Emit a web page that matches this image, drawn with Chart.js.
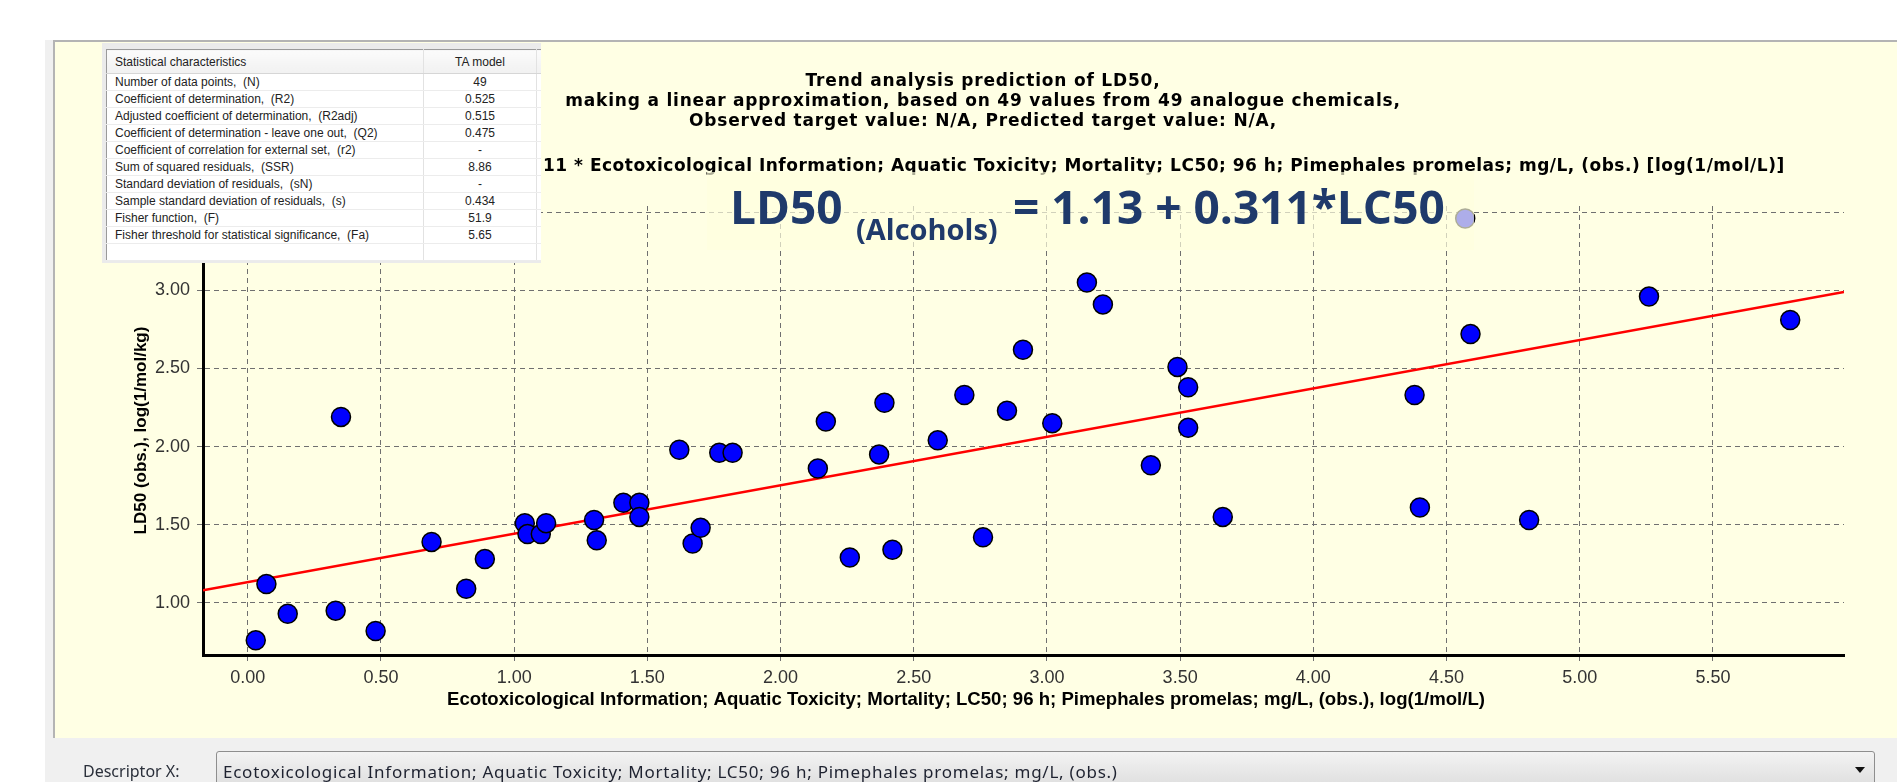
<!DOCTYPE html>
<html>
<head>
<meta charset="utf-8">
<title>Trend analysis prediction of LD50</title>
<script src="https://cdn.jsdelivr.net/npm/chart.js@4.4.0/dist/chart.umd.min.js"></script>
<style>
  html, body { margin: 0; padding: 0; width: 1897px; height: 782px; overflow: hidden; background: #fff; }
  #frame { position: absolute; left: 45px; top: 40px; right: 0; bottom: 0; background: #f0f0f0; }
  #panel { position: absolute; left: 53px; top: 40px; width: 1844px; height: 698px; background: #ffffe4;
           border-left: 2px solid #b4b4b4; border-top: 2px solid #b4b4b4; box-sizing: border-box; }
  #chart { position: absolute; left: 0; top: 0; }
  #stats { position: absolute; left: 102px; top: 43px; width: 439px; height: 220px; background: #ebebeb; overflow: hidden; }
  #stats table { position: absolute; left: 4px; top: 6px; width: 480px; table-layout: fixed; border-collapse: collapse;
                 background: #fff; font: 12px "Liberation Sans", Arial, sans-serif; color: #222;
                 border-left: 1px solid #9a9a9a; border-top: 1px solid #9a9a9a; }
  #stats td, #stats th { white-space: pre; padding: 0 0 0 8px; height: 16px; border-bottom: 1px solid #ececec;
                         border-right: 1px solid #e2e2e2; font-weight: normal; text-align: left; overflow: hidden; }
  #stats th { height: 23px; background: linear-gradient(#fbfbfb, #f1f1f1); border-bottom: 1px solid #d6d6d6; }
  #stats .val { text-align: center; padding: 0; }
  #descLabel { position: absolute; left: 83px; top: 760px; font: 16px "Noto Sans", sans-serif; color: #2a2f3a; }
  #descBox { position: absolute; left: 216px; top: 751px; width: 1659px; height: 40px; box-sizing: border-box;
             border: 1px solid #8e8e8e; border-radius: 3px; background: linear-gradient(#f3f3f3, #dcdcdc);
             font: 17px "Noto Sans", sans-serif; letter-spacing: 0.75px; color: #1e2230; padding: 8px 0 0 6px; }
  #descArrow { position: absolute; right: 9px; top: 15px; width: 0; height: 0;
               border-left: 5px solid transparent; border-right: 5px solid transparent; border-top: 6px solid #111; }
</style>
</head>
<body>
<div id="frame"></div>
<div id="panel"></div>
<canvas id="chart" width="1897" height="782"></canvas>
<div id="stats"><table id="statsTable"></table></div>
<div id="descLabel">Descriptor X:</div>
<div id="descBox"><span id="descText"></span><div id="descArrow"></div></div>

<script>
const lc50 = [0.03, 0.07, 0.15, 0.33, 0.35, 0.48, 0.69, 0.82, 0.89, 1.04,
              1.05, 1.10, 1.12, 1.30, 1.31, 1.41, 1.47, 1.47, 1.62, 1.67,
              1.70, 1.77, 1.82, 2.14, 2.17, 2.26, 2.37, 2.39, 2.42, 2.59,
              2.69, 2.76, 2.85, 2.91, 3.02, 3.15, 3.21, 3.39, 3.49, 3.53,
              3.53, 3.66, 4.38, 4.40, 4.57, 4.59, 4.81, 5.26, 5.79];
const ld50 = [0.76, 1.12, 0.93, 0.95, 2.19, 0.82, 1.39, 1.09, 1.28, 1.51,
              1.44, 1.44, 1.51, 1.53, 1.40, 1.64, 1.64, 1.55, 1.98, 1.38,
              1.48, 1.96, 1.96, 1.86, 2.16, 1.29, 1.95, 2.28, 1.34, 2.04,
              2.33, 1.42, 2.23, 2.62, 2.15, 3.05, 2.91, 1.88, 2.51, 2.38,
              2.12, 1.55, 2.33, 1.61, 3.46, 2.72, 1.53, 2.96, 2.81];

// trend line end points (at the axis limits)
const fitX = [-0.168, 5.992];
const fitY = [1.08, 2.99];

const xTicks = [0, 0.5, 1, 1.5, 2, 2.5, 3, 3.5, 4, 4.5, 5, 5.5];
const yTicks = [1, 1.5, 2, 2.5, 3, 3.5];

const titleLines = [
  'Trend analysis prediction of LD50,',
  'making a linear approximation, based on 49 values from 49 analogue chemicals,',
  'Observed target value: N/A, Predicted target value: N/A,'
];
const formulaLine = '11 * Ecotoxicological Information; Aquatic Toxicity; Mortality; LC50; 96 h; Pimephales promelas; mg/L, (obs.) [log(1/mol/L)]';
const xTitle = 'Ecotoxicological Information; Aquatic Toxicity; Mortality; LC50; 96 h; Pimephales promelas; mg/L, (obs.), log(1/mol/L)';
const yTitle = 'LD50 (obs.), log(1/mol/kg)';
const descriptorText = 'Ecotoxicological Information; Aquatic Toxicity; Mortality; LC50; 96 h; Pimephales promelas; mg/L, (obs.)';

const statNames = [
  'Number of data points,  (N)',
  'Coefficient of determination,  (R2)',
  'Adjusted coefficient of determination,  (R2adj)',
  'Coefficient of determination - leave one out,  (Q2)',
  'Coefficient of correlation for external set,  (r2)',
  'Sum of squared residuals,  (SSR)',
  'Standard deviation of residuals,  (sN)',
  'Sample standard deviation of residuals,  (s)',
  'Fisher function,  (F)',
  'Fisher threshold for statistical significance,  (Fa)',
  ''
];
const statValues = ['49', '0.525', '0.515', '0.475', '-', '8.86', '-', '0.434', '51.9', '5.65', ''];

// stats table
var tbl = document.getElementById('statsTable');
var html = '<colgroup><col style="width:317px"><col style="width:113px"><col style="width:50px"></colgroup>';
html += '<tr><th>Statistical characteristics</th><th class="val">TA model</th><th></th></tr>';
statNames.forEach(function(name, i) {
    html += '<tr><td>' + name + '</td><td class="val">' + statValues[i] + '</td><td></td></tr>';
});
tbl.innerHTML = html;
document.getElementById('descText').textContent = descriptorText;

// titles, formula, x axis title and the equation box on top of the plot
const overlayPlugin = {
    id: 'overlay',
    afterDraw(chart) {
        const ctx = chart.ctx;
        ctx.save();
        ctx.fillStyle = '#000';
        ctx.textBaseline = 'middle';
        ctx.font = 'bold 17px "DejaVu Sans"';
        ctx.letterSpacing = '0.8px';
        ctx.textAlign = 'center';
        titleLines.forEach(function(t, i) {
            ctx.fillText(t, 983, 81.5 + i * 20);
        });
        ctx.textAlign = 'left';
        ctx.letterSpacing = '0.5px';
        ctx.fillText(formulaLine, 543, 166.5);
        ctx.letterSpacing = '0px';

        // x axis title, centred on the panel rather than the plot
        ctx.textAlign = 'center';
        ctx.font = 'bold 18.6px "Liberation Sans", Arial';
        ctx.fillText(xTitle, 966, 700);

        ctx.fillStyle = 'rgba(255, 255, 222, 0.68)';
        ctx.fillRect(707, 172, 767, 78);

        ctx.fillStyle = '#1f3a6b';
        ctx.textAlign = 'left';
        ctx.textBaseline = 'alphabetic';
        ctx.font = 'bold 46px "Open Sans"';
        ctx.fillText('LD50', 730, 224);
        ctx.font = 'bold 29px "Open Sans"';
        ctx.fillText('(Alcohols)', 856, 240);
        ctx.font = 'bold 46px "Open Sans"';
        ctx.fillText('= 1.13 + 0.311*LC50', 1013, 224);
        ctx.restore();
    }
};

const gridStyle = {
    color: '#707070',
    lineWidth: 1,
    tickLength: 6,
    tickColor: '#707070',
    tickBorderDash: [5, 4]
};
const borderStyle = { display: true, color: '#000', width: 3, dash: [5, 4] };

const ctx = document.getElementById('chart').getContext('2d');
const chart = new Chart(ctx, {
    type: 'scatter',
    data: {
        datasets: [{
            label: 'LD50',
            data: lc50.map(function(x, i) { return { x: x, y: ld50[i] }; }),
            backgroundColor: '#0000ff',
            borderColor: '#000',
            borderWidth: 1.5,
            pointRadius: 9.5,
            order: 0
        }, {
            label: 'Trend',
            data: fitX.map(function(x, i) { return { x: x, y: fitY[i] }; }),
            showLine: true,
            borderColor: '#ff0000',
            borderWidth: 2.5,
            pointRadius: 0,
            order: 1
        }]
    },
    options: {
        responsive: false,
        animation: false,
        layout: { padding: { left: 103, right: 53, top: 206, bottom: 67 } },
        plugins: {
            legend: { display: false },
            tooltip: { enabled: false },
            title: { display: false }
        },
        scales: {
            x: {
                type: 'linear',
                min: -0.168,
                max: 5.992,
                afterBuildTicks: function(scale) { scale.ticks = xTicks.map(function(v) { return { value: v }; }); },
                afterFit: function(scale) { scale.height = 60; },
                grid: gridStyle,
                border: borderStyle,
                ticks: {
                    padding: 6,
                    color: '#333',
                    font: { family: '"Liberation Sans", Arial', size: 18 },
                    maxRotation: 0,
                    callback: function(v) { return v.toFixed(2); }
                }
            },
            y: {
                type: 'linear',
                min: 0.666,
                max: 3.54,
                afterBuildTicks: function(scale) { scale.ticks = yTicks.map(function(v) { return { value: v }; }); },
                afterFit: function(scale) { scale.width = 100; },
                grid: gridStyle,
                border: borderStyle,
                ticks: {
                    padding: 7,
                    color: '#333',
                    font: { family: '"Liberation Sans", Arial', size: 18 },
                    callback: function(v) { return v.toFixed(2); }
                },
                title: {
                    display: true,
                    text: yTitle,
                    color: '#000',
                    padding: { top: 28, bottom: 0 },
                    font: { family: '"Liberation Sans", Arial', size: 17, weight: 'bold' }
                }
            }
        }
    },
    plugins: [overlayPlugin]
});
</script>
</body>
</html>
